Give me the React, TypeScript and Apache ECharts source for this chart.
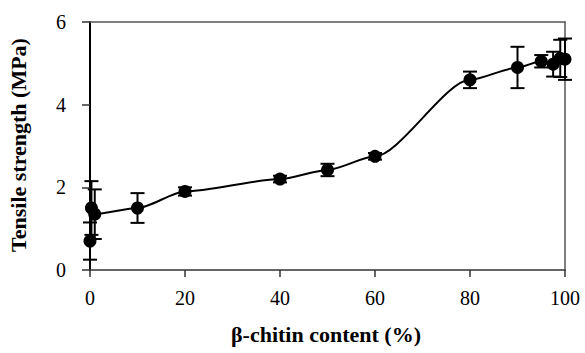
import React, { useEffect, useRef } from "react";
import * as echarts from "echarts";

const chitinContent = [0, 0.3, 1, 10, 20, 40, 50, 60, 80, 90, 95, 97.5, 99, 100];
const tensileStrength = [0.7, 1.5, 1.35, 1.5, 1.9, 2.2, 2.42, 2.75, 4.6, 4.9, 5.05, 4.98, 5.12, 5.1];
const strengthError = [0.45, 0.65, 0.6, 0.36, 0.1, 0.08, 0.15, 0.08, 0.2, 0.5, 0.15, 0.3, 0.45, 0.5];
const xTicks = [0, 20, 40, 60, 80, 100];
const yTicks = [0, 2, 4, 6];

const FONT = "Liberation Serif";

export default function App() {
  const ref = useRef<HTMLDivElement>(null);
  useEffect(() => {
    if (!ref.current) return;
    const chart = echarts.init(ref.current, null, { renderer: "svg" });
    const points = chitinContent.map((x, i) => [x, tensileStrength[i]]);
    const errData = chitinContent.map((x, i) => [x, tensileStrength[i], strengthError[i]]);
    const frameAxis = {
      type: "value",
      axisLine: { show: true, onZero: false, lineStyle: { color: "#555", width: 1.5 } },
      axisTick: { show: false },
      axisLabel: { show: false },
      splitLine: { show: false },
    };
    chart.setOption({
      animation: false,
      backgroundColor: "#fff",
      grid: { left: 90, right: 20, top: 22, bottom: 83 },
      xAxis: [
        {
          type: "value",
          min: xTicks[0],
          max: xTicks[xTicks.length - 1],
          interval: 20,
          axisLine: { show: true, onZero: false, lineStyle: { color: "#333", width: 1.5 } },
          axisTick: { show: true, inside: false, length: 7, lineStyle: { color: "#333", width: 1.5 } },
          axisLabel: { color: "#000", fontFamily: FONT, fontSize: 20, margin: 18 },
          splitLine: { show: false },
        },
        { ...frameAxis, position: "top", min: 0, max: 100 },
      ],
      yAxis: [
        {
          type: "value",
          min: yTicks[0],
          max: yTicks[yTicks.length - 1],
          interval: 2,
          axisLine: { show: true, onZero: false, lineStyle: { color: "#000", width: 2 } },
          axisTick: { show: true, inside: false, length: 8, lineStyle: { color: "#333", width: 1.5 } },
          axisLabel: { color: "#000", fontFamily: FONT, fontSize: 20, margin: 24 },
          splitLine: { show: false },
        },
        { ...frameAxis, position: "right", min: 0, max: 6 },
      ],
      graphic: [
        {
          type: "text",
          x: 18,
          y: 145,
          rotation: Math.PI / 2,
          style: {
            text: "Tensile strength (MPa)",
            fontFamily: FONT,
            fontWeight: "bold",
            fontSize: 22,
            fill: "#000",
            align: "center",
            verticalAlign: "middle",
          },
        },
        {
          type: "text",
          x: 326,
          y: 334,
          style: {
            text: "β-chitin content (%)",
            fontFamily: FONT,
            fontWeight: "bold",
            fontSize: 22,
            fill: "#000",
            align: "center",
            verticalAlign: "middle",
          },
        },
      ],
      series: [
        {
          type: "custom",
          data: errData,
          z: 3,
          renderItem: (params: any, api: any) => {
            const x = api.value(0);
            const y = api.value(1);
            const e = api.value(2);
            const top = api.coord([x, y + e]);
            const bot = api.coord([x, y - e]);
            const hw = 7;
            const st = { stroke: "#000", lineWidth: 2 };
            return {
              type: "group",
              children: [
                { type: "line", shape: { x1: top[0], y1: top[1], x2: bot[0], y2: bot[1] }, style: st },
                { type: "line", shape: { x1: top[0] - hw, y1: top[1], x2: top[0] + hw, y2: top[1] }, style: st },
                { type: "line", shape: { x1: bot[0] - hw, y1: bot[1], x2: bot[0] + hw, y2: bot[1] }, style: st },
              ],
            };
          },
        },
        {
          type: "line",
          data: points,
          smooth: 0.25,
          smoothMonotone: "x",
          symbol: "circle",
          symbolSize: 13,
          z: 4,
          lineStyle: { color: "#000", width: 2 },
          itemStyle: { color: "#000" },
        },
      ],
    });
    return () => chart.dispose();
  }, []);
  return (
    <div
      ref={ref}
      style={{ position: "absolute", left: 0, top: 0, width: 585, height: 353 }}
    />
  );
}
